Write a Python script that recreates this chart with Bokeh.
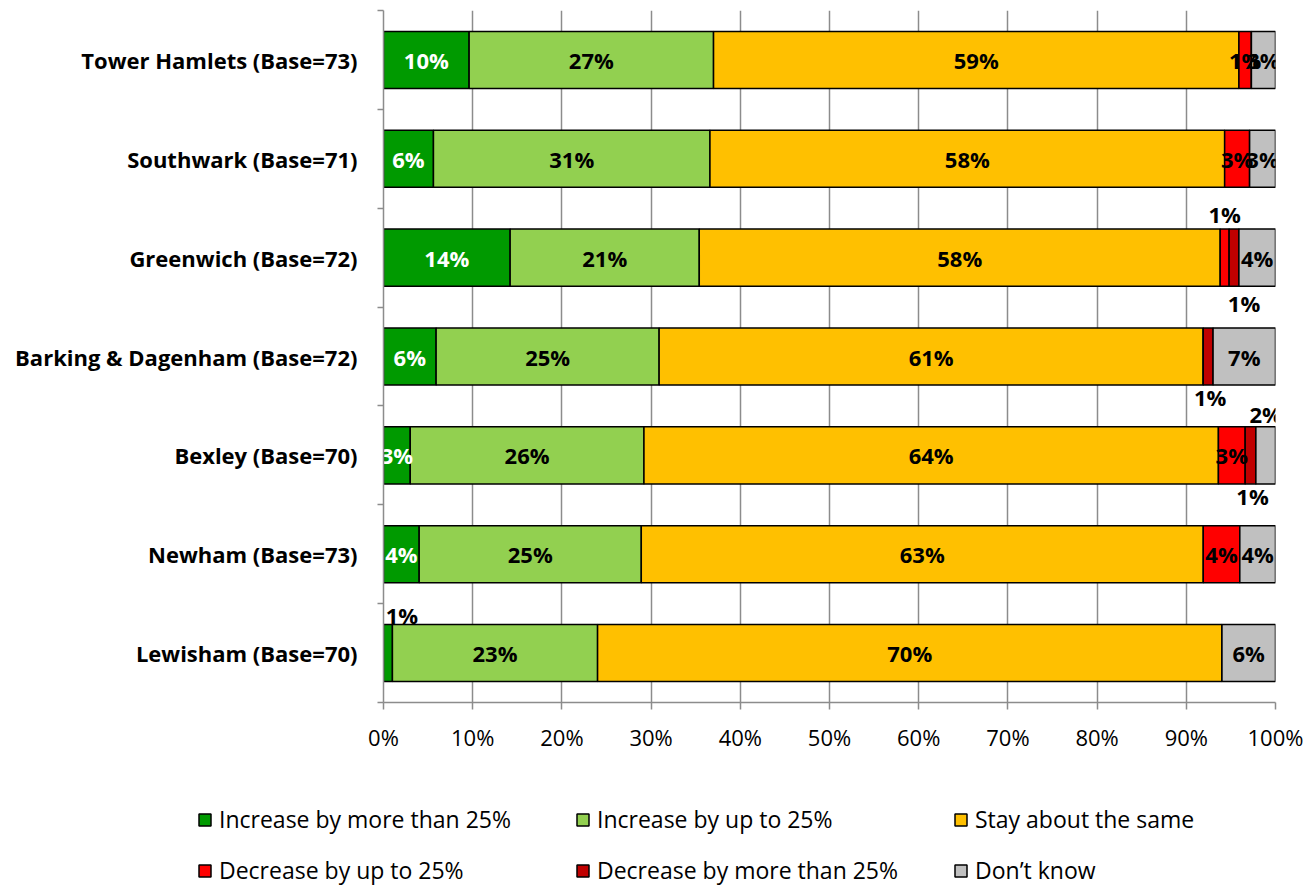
from bokeh.plotting import figure
from bokeh.layouts import column, row
from bokeh.models import ColumnDataSource, FixedTicker, Legend, LegendItem, Range1d
from bokeh.core.properties import value
from bokeh.embed import file_html
from bokeh.resources import INLINE

categories = ["Tower Hamlets (Base=73)", "Southwark (Base=71)", "Greenwich (Base=72)",
              "Barking & Dagenham (Base=72)", "Bexley (Base=70)", "Newham (Base=73)",
              "Lewisham (Base=70)"]
series_names = ["Increase by more than 25%", "Increase by up to 25%", "Stay about the same",
                "Decrease by up to 25%", "Decrease by more than 25%", "Don\u2019t know"]
inc_more = [9.6, 5.6, 14.2, 5.9, 3.0, 4.0, 1.0]
inc_up = [27.4, 31.0, 21.2, 25.0, 26.2, 24.9, 23.0]
same = [58.9, 57.7, 58.4, 61.0, 64.4, 63.0, 70.0]
dec_up = [1.4, 2.8, 1.0, 0.0, 3.0, 4.1, 0.0]
dec_more = [0.0, 0.0, 1.1, 1.1, 1.2, 0.0, 0.0]
dont_know = [2.7, 2.9, 4.1, 7.0, 2.2, 4.0, 6.0]
x_ticks = [0, 10, 20, 30, 40, 50, 60, 70, 80, 90, 100]

series = [inc_more, inc_up, same, dec_up, dec_more, dont_know]
colors = ["#009A00", "#92D050", "#FFC000", "#FF0000", "#C00000", "#C0C0C0"]
keys = ["s%d" % i for i in range(len(series))]

n = len(categories)
ypos = [n - 1 - i for i in range(n)]
data = {"y": ypos, "cat": categories}
for k, s in zip(keys, series):
    data[k] = s
source = ColumnDataSource(data)

FONT = "Open Sans"
MAIN_H = 770
p = figure(width=1314, height=MAIN_H, output_backend="svg", toolbar_location=None,
           x_range=Range1d(0, 100), y_range=Range1d(-0.5, n - 0.5),
           min_border_left=383, min_border_right=39, min_border_top=10,
           min_border_bottom=MAIN_H - 702)
p.outline_line_color = None
p.background_fill_color = "white"

# grid
p.ygrid.grid_line_color = None
p.xgrid.ticker = FixedTicker(ticks=x_ticks)
p.xgrid.grid_line_color = "#8C8C8C"
p.xgrid.grid_line_width = 1.5

bar_h = 0.577
renderers = p.hbar_stack(keys, y="y", height=bar_h, fill_color=colors,
                         line_color="black", line_width=1.5, source=source)

# axes
p.xaxis.ticker = FixedTicker(ticks=x_ticks)
p.xaxis.major_label_overrides = {t: "%d%%" % t for t in x_ticks}
p.xaxis.major_label_text_font = FONT
p.xaxis.major_label_text_font_size = "22px"
p.xaxis.major_label_text_color = "black"
p.xaxis.major_label_standoff = 12
p.xaxis.major_tick_in = 0
p.xaxis.major_tick_out = 7
p.xaxis.major_tick_line_color = "#8C8C8C"
p.xaxis.major_tick_line_width = 1.5
p.xaxis.minor_tick_line_color = None
p.xaxis.axis_line_color = "#8C8C8C"
p.xaxis.axis_line_width = 1.5

bounds = [i - 0.5 for i in range(n + 1)]
p.yaxis.ticker = FixedTicker(ticks=ypos, minor_ticks=bounds)
p.yaxis.major_label_overrides = {y: c for y, c in zip(ypos, categories)}
p.yaxis.major_label_text_font = FONT
p.yaxis.major_label_text_font_style = "bold"
p.yaxis.major_label_text_font_size = "22px"
p.yaxis.major_label_text_color = "black"
p.yaxis.major_label_standoff = 20
p.yaxis.major_tick_in = 0
p.yaxis.major_tick_out = 0
p.yaxis.minor_tick_in = 0
p.yaxis.minor_tick_out = 6
p.yaxis.minor_tick_line_color = "#8C8C8C"
p.yaxis.minor_tick_line_width = 1.5
p.yaxis.axis_line_color = "#8C8C8C"
p.yaxis.axis_line_width = 1.5

# data labels
# manual moves for small segments: (series index, category index) -> (dy px, dx px)
moved = {(3, 2): (-44, 0), (4, 2): (45, 10), (4, 3): (40, 2),
         (5, 4): (-41, 0), (4, 4): (41, 2), (0, 6): (-38, 14)}
lx, ly, lt, lc, dxs, dys = [], [], [], [], [], []
for ci in range(n):
    left = 0.0
    for si, s in enumerate(series):
        v = s[ci]
        if v > 0:
            lx.append(left + v / 2.0)
            ly.append(ypos[ci])
            lt.append("%d%%" % round(v))
            dy, dx = moved.get((si, ci), (0, 0))
            dys.append(dy)
            dxs.append(dx)
            lc.append("white" if (si == 0 and (si, ci) not in moved) else "black")
        left += v
lsrc = ColumnDataSource(dict(x=lx, y=ly, t=lt, c=lc, dx=dxs, dy=dys))
p.text(x="x", y="y", text="t", text_color="c", x_offset="dx", y_offset="dy",
       source=lsrc, text_font=value(FONT), text_font_style="bold",
       text_font_size="22px", text_align="center", text_baseline="middle")

# legend in its own strip below the chart (its renderers are hidden, only swatches show)
LEG_H = 116
lf = figure(width=1314, height=LEG_H, output_backend="svg", toolbar_location=None,
            x_range=Range1d(0, 100), y_range=Range1d(50, 51), x_axis_type=None,
            y_axis_type=None, min_border=0)
lf.outline_line_color = None
lf.grid.visible = False
lrs = lf.hbar_stack(keys, y="y", height=bar_h, fill_color=colors,
                    line_color="black", line_width=1.5, source=source)
for r in lrs:
    r.visible = False
leg_items = [LegendItem(label=name, renderers=[r]) for name, r in zip(series_names, lrs)]
legend = Legend(items=leg_items, ncols=3, location=(197, 0),
                orientation="horizontal",
                glyph_width=15, glyph_height=15, label_standoff=7, label_width=337,
                label_height=20, spacing=19, padding=0, margin=0,
                label_text_font=FONT, label_text_font_size="23px",
                label_text_color="black", border_line_color=None,
                background_fill_alpha=0)
lf.add_layout(legend, "center")

layout = column(p, row(lf), spacing=0)
open("out.html", "w").write(file_html(layout, INLINE))
